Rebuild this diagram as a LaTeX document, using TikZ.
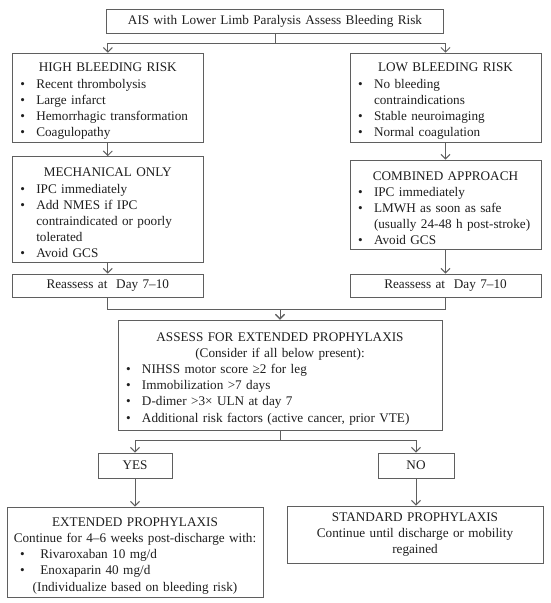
\documentclass[tikz,border=0pt]{standalone}
\usepackage{fontspec}
\setmainfont{Liberation Serif}
\usetikzlibrary{arrows.meta,positioning}
\definecolor{ink}{RGB}{30,30,30}
\definecolor{edge}{RGB}{95,95,95}
\newcommand{\itm}[1][0pt]{\par\hspace*{#1}\makebox[16pt][l]{\textbullet}}
\newcommand{\wrapl}{\\\hspace*{16pt}}
\newcommand{\boxtitle}[1]{{\par\centering #1\par}}

\begin{document}
\begin{tikzpicture}[x=1pt,y=-1pt,
  box/.style={draw=edge,line width=1pt,inner xsep=8pt,inner ysep=2pt,
    align=left,text=ink,font=\fontsize{13.2}{16.2}\selectfont},
  tag/.style={box,align=center},
  arr/.style={draw=edge,line width=1pt,-{Straight Barb[length=4.5pt,width=9pt]}}]
  \useasboundingbox (0,0) rectangle (550,603);
  \node[tag,text width=321pt,minimum height=24pt] (start) at (275,21.7)
    {AIS with Lower Limb Paralysis Assess Bleeding Risk};
  \node[box,text width=175pt,minimum height=89pt] (high) at (107.8,97.7) {%
    \boxtitle{HIGH BLEEDING RISK}
    \itm Recent thrombolysis
    \itm Large infarct
    \itm Hemorrhagic transformation
    \itm Coagulopathy};
  \node[box,text width=175pt,minimum height=89pt] (low) at (445.5,97.7) {%
    \boxtitle{LOW BLEEDING RISK}
    \itm No bleeding\wrapl contraindications
    \itm Stable neuroimaging
    \itm Normal coagulation};
  \node[box,text width=175pt,minimum height=105.5pt] (mech) at (107.8,209.4) {%
    \boxtitle{MECHANICAL ONLY}
    \itm IPC immediately
    \itm Add NMES if IPC\wrapl contraindicated or poorly\wrapl tolerated
    \itm Avoid GCS};
  \node[box,text width=175pt,minimum height=89pt] (comb) at (445.5,204.5) {%
    \boxtitle{COMBINED APPROACH}
    \itm IPC immediately
    \itm LMWH as soon as safe\wrapl (usually 24-48 h post-stroke)
    \itm Avoid GCS};
  \node[tag,text width=175pt,minimum height=23.5pt] (reL) at (107.8,285.8)
    {Reassess at\ \ Day 7--10};
  \node[tag,text width=175pt,minimum height=23.5pt] (reR) at (445.5,285.8)
    {Reassess at\ \ Day 7--10};
  \node[box,text width=308pt,minimum height=110pt] (assess) at (280,375) {%
    \boxtitle{ASSESS FOR EXTENDED PROPHYLAXIS\\(Consider if all below present):}
    \itm NIHSS motor score ≥2 for leg
    \itm Immobilization >7 days
    \itm D-dimer >3× ULN at day 7
    \itm Additional risk factors (active cancer, prior VTE)};
  \node[tag,text width=58pt,minimum height=25pt] (yes) at (135,465.5) {YES};
  \node[tag,text width=60pt,minimum height=25pt] (no) at (416,465.5) {NO};
  \node[box,inner xsep=6pt,text width=244pt,minimum height=90pt] (ext) at (135,552) {%
    \boxtitle{EXTENDED PROPHYLAXIS\\Continue for 4--6 weeks post-discharge with:}
    \itm[7pt] Rivaroxaban 10 mg/d
    \itm[7pt] Enoxaparin 40 mg/d
    \boxtitle{(Individualize based on bleeding risk)}};
  \node[tag,text width=240pt,minimum height=57pt] (std) at (415,534.5)
    {STANDARD PROPHYLAXIS\\Continue until discharge or mobility\\regained};
  \coordinate (fork) at (275,43.3);
  \coordinate (join) at (280,309);
  \coordinate (fork2) at (280,440);
  \draw[arr] (start.south) -- (fork) -| (high.north);
  \draw[arr] (start.south) -- (fork) -| (low.north);
  \draw[arr] (high) -- (mech);
  \draw[arr] (low) -- (comb);
  \draw[arr] (mech) -- (reL);
  \draw[arr] (comb) -- (reR);
  \draw[arr] (reL.south) |- (join) -- (assess.north);
  \draw[arr] (reR.south) |- (join) -- (assess.north);
  \draw[arr] (assess.south) -- (fork2) -| (yes.north);
  \draw[arr] (assess.south) -- (fork2) -| (no.north);
  \draw[arr] (yes) -- (ext);
  \draw[arr] (no.south) -- (no.south |- std.north);
\end{tikzpicture}
\end{document}
